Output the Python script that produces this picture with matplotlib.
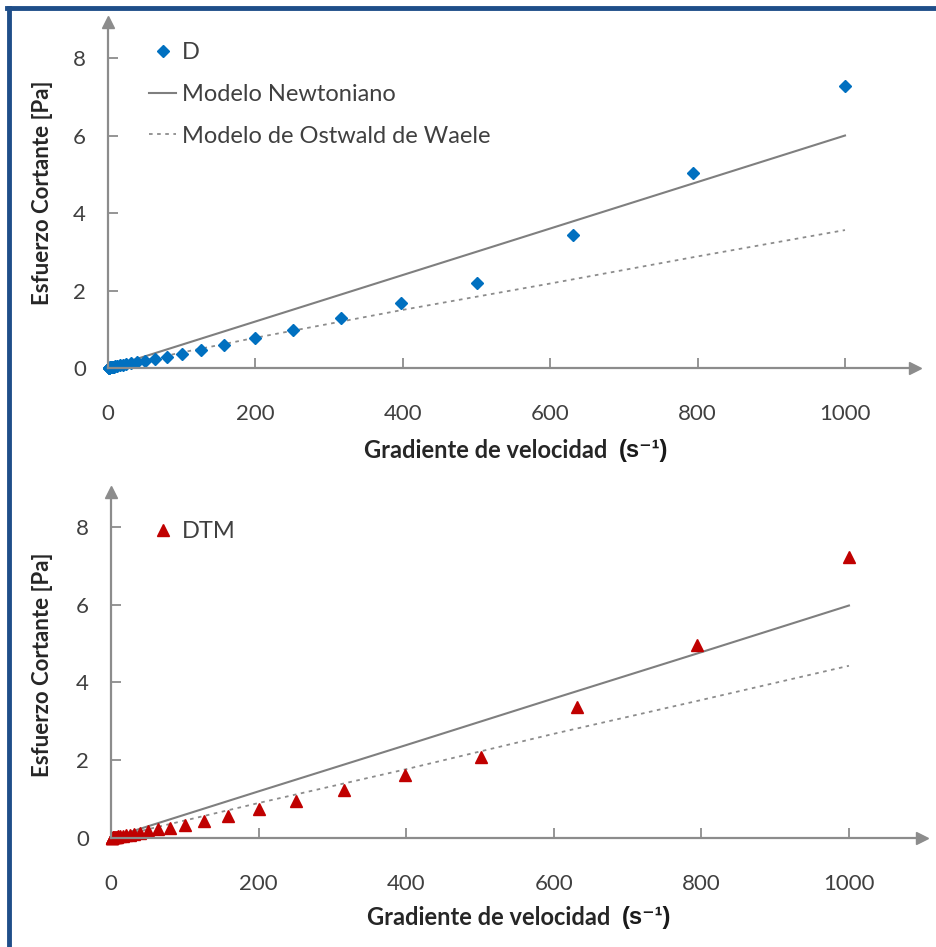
import matplotlib
matplotlib.use("Agg")
import matplotlib.pyplot as plt
from matplotlib.lines import Line2D

plt.rcParams["font.family"] = ["Lato", "DejaVu Sans"]

# gradiente de velocidad (s-1)
shear_rate = [1000, 794, 631, 501, 398, 316, 251, 200, 158, 126, 100, 79.4,
              63.1, 50.1, 39.8, 31.6, 25.1, 20, 15.8, 12.6, 10, 7.94, 6.31,
              5.01, 3.98, 3.16, 2.51, 2, 1.58, 1.26, 1]

# esfuerzo cortante [Pa]
stress_D = [7.28, 5.03, 3.43, 2.19, 1.68, 1.29, 0.98, 0.77, 0.59, 0.46, 0.36,
            0.28, 0.23, 0.18, 0.15, 0.12, 0.10, 0.08, 0.065, 0.05, 0.04, 0.035,
            0.03, 0.025, 0.02, 0.018, 0.015, 0.012, 0.01, 0.008, 0.007]
stress_DTM = [7.22, 4.96, 3.37, 2.08, 1.62, 1.23, 0.95, 0.75, 0.56, 0.45, 0.34,
              0.27, 0.22, 0.17, 0.14, 0.11, 0.09, 0.07, 0.06, 0.05, 0.04, 0.033,
              0.028, 0.023, 0.019, 0.016, 0.013, 0.011, 0.009, 0.007, 0.006]

# modelos
model_x = [0, 100, 200, 400, 600, 800, 1000]
newton_D = [0, 0.6, 1.2, 2.4, 3.6, 4.8, 6.0]
ostwald_D = [0, 0.40, 0.78, 1.50, 2.18, 2.88, 3.56]
newton_DTM = [0, 0.6, 1.2, 2.39, 3.59, 4.78, 5.98]
ostwald_DTM = [0, 0.45, 0.90, 1.77, 2.68, 3.55, 4.43]

xticks = [0, 200, 400, 600, 800, 1000]
yticks = [0, 2, 4, 6, 8]

W, H = 937, 947
GRAY = "#8c8c8c"
TXT = "#404040"

fig = plt.figure(figsize=(W / 100, H / 100), dpi=100)


def make_axes(x0, x1, y0, y1, xmax, ymax):
    # pixel box -> figure fractions
    ax = fig.add_axes([x0 / W, 1 - y0 / H, (x1 - x0) / W, (y0 - y1) / H])
    ax.set_xlim(0, xmax)
    ax.set_ylim(0, ymax)
    for s in ["top", "right"]:
        ax.spines[s].set_visible(False)
    for s in ["left", "bottom"]:
        ax.spines[s].set_color(GRAY)
        ax.spines[s].set_linewidth(1.6)
    ax.plot(1, 0, ">", color=GRAY, ms=8, transform=ax.transAxes, clip_on=False)
    ax.plot(0, 1, "^", color=GRAY, ms=8, transform=ax.transAxes, clip_on=False)
    ax.set_xticks(xticks)
    ax.set_yticks(yticks)
    ax.tick_params(direction="in", length=7, width=1.3, color=GRAY,
                   labelcolor=TXT, labelsize=16)
    ax.tick_params(axis="x", pad=26)
    ax.tick_params(axis="y", pad=16)
    ax.patch.set_alpha(0)
    return ax


ax1 = make_axes(108, 915, 368, 22, 1095, 8.93)
ax2 = make_axes(111, 922, 838, 492, 1099, 8.9)

# panel superior
ax1.plot(model_x, newton_D, color="#7f7f7f", lw=1.5)
ax1.plot(model_x, ostwald_D, color="#8c8c8c", lw=1.3, ls=(0, (2, 2.5)))
ax1.plot(shear_rate, stress_D, "D", color="#0070C0", ms=6.5, clip_on=False)

h1 = [Line2D([], [], marker="D", color="#0070C0", ls="none", ms=6.5),
      Line2D([], [], color="#7f7f7f", lw=1.5),
      Line2D([], [], color="#8c8c8c", lw=1.3, ls=(0, (2, 2.5)))]
ax1.legend(h1, ["D", "Modelo Newtoniano", "Modelo de Ostwald de Waele"],
           loc="upper left", bbox_to_anchor=(149 / W, 1 - 42 / H),
           bbox_transform=fig.transFigure, frameon=False, fontsize=17,
           labelcolor=TXT, handlelength=1.15, handletextpad=0.25,
           labelspacing=0.88, borderpad=0, borderaxespad=0)

# panel inferior
ax2.plot(model_x, newton_DTM, color="#7f7f7f", lw=1.5)
ax2.plot(model_x, ostwald_DTM, color="#8c8c8c", lw=1.3, ls=(0, (2, 2.5)))
ax2.plot(shear_rate, stress_DTM, "^", color="#C00000", ms=9, clip_on=False)

h2 = [Line2D([], [], marker="^", color="#C00000", ls="none", ms=9)]
ax2.legend(h2, ["DTM"], loc="upper left", bbox_to_anchor=(149 / W, 1 - 521 / H),
           bbox_transform=fig.transFigure, frameon=False, fontsize=17,
           labelcolor=TXT, handlelength=1.15, handletextpad=0.25,
           borderpad=0, borderaxespad=0)

# titulos de ejes
for yc in [193, 665]:
    fig.text(43 / W, 1 - yc / H, "Esfuerzo Cortante [Pa]", rotation=90,
             ha="center", va="center", fontsize=16, fontweight="bold",
             color="#262626")
for yc, x_end in [(450, 607), (917, 610)]:
    fig.text(x_end / W, 1 - yc / H, "Gradiente de velocidad", ha="right",
             va="center", fontsize=17, fontweight="bold", color="#262626")
    fig.text((x_end + 12) / W, 1 - yc / H, "(s\u207b\u00b9)", ha="left",
             va="center", fontsize=17, fontweight="bold", color="#1a1a1a",
             family=["Liberation Sans", "DejaVu Sans"])

# marco azul (izquierda y arriba)
fig.add_artist(Line2D([9 / W, 9 / W], [0, 1 - 8 / H], color="#1F4E89",
                      lw=3.5, transform=fig.transFigure))
fig.add_artist(Line2D([7 / W, 1], [1 - 8 / H, 1 - 8 / H], color="#1F4E89",
                      lw=3.5, transform=fig.transFigure))

fig.savefig("out.png", dpi=100)
